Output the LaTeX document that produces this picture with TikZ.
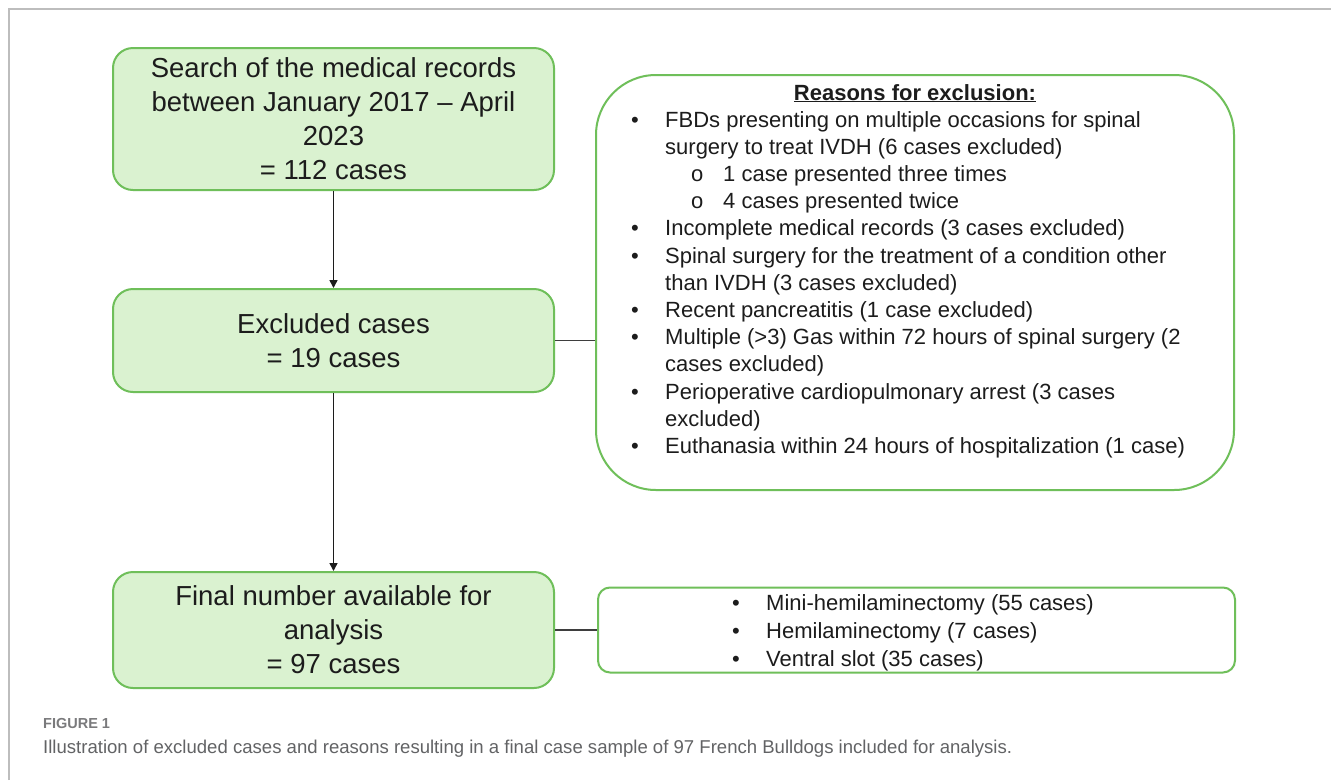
\documentclass[tikz,border=0pt]{standalone}
\usepackage{fontspec}
\usepackage{graphicx}
\setmainfont{Liberation Sans}
\usetikzlibrary{arrows.meta}

\definecolor{boxfill}{HTML}{DAF2D0}
\definecolor{boxline}{HTML}{6FBF5A}
\definecolor{framegray}{HTML}{BDBDBD}
\definecolor{capgray}{HTML}{626365}
\definecolor{inkblack}{HTML}{1C1C1C}

% one line of a bulleted list, and its variants
\newcommand{\blt}[1]{\hbox{\makebox[34pt][l]{\textbullet}#1}}
\newcommand{\bcont}[1]{\hbox{\hspace{34pt}#1}}
\newcommand{\bsub}[1]{\hbox{\hspace{60pt}\makebox[32pt][l]{o}#1}}

\begin{document}
\begin{tikzpicture}[x=1pt,y=-1pt,
  stepbox/.style={draw=boxline, fill=boxfill, line width=2pt,
    rounded corners=20pt, minimum width=441pt, align=center,
    inner sep=0pt, text=inkblack,
    font=\fontsize{27.5}{34}\selectfont},
  listbox/.style={draw=boxline, fill=white, line width=2pt, inner sep=0pt},
  flow/.style={draw=inkblack, line width=1.5pt,
    -{Triangle[length=8pt,width=8pt]}},
  link/.style={draw=inkblack!85, line width=1.8pt},
  listtext/.style={anchor=base west, inner sep=0pt, text=inkblack,
    font=\fontsize{22}{27.2}\selectfont}
]
\useasboundingbox (0,0) rectangle (1331,780);
\fill[white] (0,0) rectangle (1331,780);

% page frame
\draw[framegray, line width=1.5pt] (9,780) -- (9,9) -- (1331,9);

% main flow
\node[stepbox, minimum height=142pt] (search) at (333.5,119)
  {Search of the medical records\\between January 2017 -- April\\2023\\= 112 cases};
\node[stepbox, minimum height=103pt] (excl) at (333.5,340.5)
  {Excluded cases\\= 19 cases};
\node[stepbox, minimum height=116pt] (final) at (333.5,630)
  {Final number available for\\analysis\\= 97 cases};

\draw[flow] (search.south) -- (excl.north);
\draw[flow] (excl.south) -- (final.north);

% reasons for exclusion
\node[listbox, rounded corners=60pt, minimum width=638pt, minimum height=415pt]
  (reasonbox) at (915,282.5) {};
\node[anchor=base, inner sep=0pt, text=inkblack,
  font=\fontsize{22}{26}\selectfont\bfseries] (reasontitle) at (915,100)
  {\underline{Reasons for exclusion:}};
\node[listtext] (reasons) at (631,127) {\vtop{\baselineskip=27.2pt
  \blt{FBDs presenting on multiple occasions for spinal}
  \bcont{surgery to treat IVDH (6 cases excluded)}
  \bsub{1 case presented three times}
  \bsub{4 cases presented twice}
  \blt{Incomplete medical records (3 cases excluded)}
  \blt{Spinal surgery for the treatment of a condition other}
  \bcont{than IVDH (3 cases excluded)}
  \blt{Recent pancreatitis (1 case excluded)}
  \blt{Multiple (>3) Gas within 72 hours of spinal surgery (2}
  \bcont{cases excluded)}
  \blt{Perioperative cardiopulmonary arrest (3 cases}
  \bcont{excluded)}
  \blt{Euthanasia within 24 hours of hospitalization (1 case)}}};

% surgical procedures
\node[listbox, rounded corners=12pt, minimum width=637pt, minimum height=85pt]
  (procbox) at (916.5,630) {};
\node[listtext] (procs) at (732,610) {\vtop{\baselineskip=28pt
  \blt{Mini-hemilaminectomy (55 cases)}
  \blt{Hemilaminectomy (7 cases)}
  \blt{Ventral slot (35 cases)}}};

\draw[link] (excl.east) -- (excl.east -| reasonbox.west);
\draw[link] (final.east) -- (final.east -| procbox.west);

% caption
\node[anchor=base west, inner sep=0pt, text=capgray!85,
  font=\fontsize{14.5}{17}\selectfont\bfseries] (figlabel) at (43,728) {FIGURE 1};
\node[anchor=base west, inner sep=0pt, text=capgray] (caption) at (43,753)
  {\resizebox{969pt}{!}{Illustration of excluded cases and reasons resulting in a final case sample of 97 French Bulldogs included for analysis.}};
\end{tikzpicture}
\end{document}
